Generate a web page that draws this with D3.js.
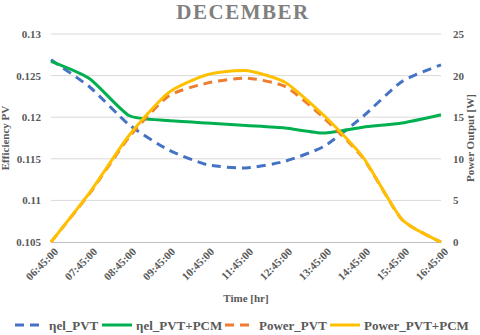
<!DOCTYPE html>
<html>
<head>
<meta charset="utf-8">
<script src="https://cdn.jsdelivr.net/npm/d3@7"></script>
<style>
  body { margin: 0; background: #fff; }
</style>
</head>
<body>
<div id="chart"></div>
<script>
// time labels and series
var times = ["06:45:00", "07:45:00", "08:45:00", "09:45:00", "10:45:00", "11:45:00",
             "12:45:00", "13:45:00", "14:45:00", "15:45:00", "16:45:00"];
var effPVT    = [0.1269, 0.1236, 0.1191, 0.1161, 0.1143, 0.1139, 0.1147, 0.1165, 0.1201, 0.1243, 0.1263];
var effPVTPCM = [0.1267, 0.1246, 0.1202, 0.1196, 0.1193, 0.1190, 0.1187, 0.1181, 0.1188, 0.1193, 0.1203];
var powPVT    = [0, 5.9, 12.6, 17.5, 19.1, 19.7, 18.7, 14.9, 10.1, 2.7, 0];
var powPVTPCM = [0, 6.0, 12.8, 17.9, 20.1, 20.6, 19.2, 15.2, 10.2, 2.7, 0];
var leftTicks = [0.105, 0.11, 0.115, 0.12, 0.125, 0.13];
var rightTicks = [0, 5, 10, 15, 20, 25];

var FONT = "'Liberation Serif', 'Times New Roman', 'DejaVu Serif', serif";

var W = 480, H = 335;
var margin = {top: 34, right: 39, bottom: 93, left: 51},
    width = W - margin.left - margin.right,
    height = H - margin.top - margin.bottom;

var svg = d3.select("#chart").append("svg")
    .attr("width", W).attr("height", H)
    .style("font-family", FONT).style("font-weight", "bold");

var g = svg.append("g")
    .attr("transform", "translate(" + margin.left + "," + margin.top + ")");

var x = d3.scalePoint().domain(times).range([0, width]);
var yL = d3.scaleLinear().domain([0.105, 0.13]).range([height, 0]);
var yR = d3.scaleLinear().domain([0, 25]).range([height, 0]);

// gridlines
g.selectAll(".grid").data(leftTicks.slice(1)).enter().append("line")
    .attr("x1", 0).attr("x2", width)
    .attr("y1", function(d) { return yL(d); })
    .attr("y2", function(d) { return yL(d); })
    .attr("stroke", "#d9d9d9").attr("stroke-width", 1);

// bottom axis
var xAxis = d3.axisBottom(x).tickSize(0).tickPadding(6);
var xg = g.append("g").attr("transform", "translate(0," + height + ")").call(xAxis)
    .attr("font-family", null);
xg.select(".domain").attr("stroke", "#bfbfbf");
xg.selectAll("text")
    .attr("fill", "#595959").style("font-size", "11px").style("font-family", FONT)
    .attr("text-anchor", "end")
    .attr("dx", "-0.2em").attr("dy", "0.6em")
    .attr("transform", "rotate(-45)");

var yAxisL = d3.axisLeft(yL).tickValues(leftTicks).tickSize(0).tickPadding(10)
    .tickFormat(function(d) { return +d.toFixed(3); });
var ylg = g.append("g").call(yAxisL);
ylg.select(".domain").remove();
ylg.selectAll("text").attr("fill", "#595959").style("font-size", "11px").style("font-family", FONT);

var yAxisR = d3.axisRight(yR).tickValues(rightTicks).tickSize(0).tickPadding(12);
var yrg = g.append("g").attr("transform", "translate(" + width + ",0)").call(yAxisR);
yrg.select(".domain").remove();
yrg.selectAll("text").attr("fill", "#595959").style("font-size", "11px").style("font-family", FONT);

// lines (Excel style smoothing)
var curve = d3.curveCardinal.tension(0.4);
var lineL = d3.line()
    .x(function(d, i) { return x(times[i]); })
    .y(function(d) { return yL(d); })
    .curve(curve);
var lineR = d3.line()
    .x(function(d, i) { return x(times[i]); })
    .y(function(d) { return yR(d); })
    .curve(curve);

var series = [
  {name: "ηel_PVT", data: effPVT, line: lineL, color: "#4472c4", dash: "9,6"},
  {name: "ηel_PVT+PCM", data: effPVTPCM, line: lineL, color: "#00b050", dash: null},
  {name: "Power_PVT", data: powPVT, line: lineR, color: "#ed7d31", dash: "9,6"},
  {name: "Power_PVT+PCM", data: powPVTPCM, line: lineR, color: "#ffc000", dash: null}
];

series.forEach(function(s) {
  g.append("path")
    .attr("d", s.line(s.data))
    .attr("fill", "none")
    .attr("stroke", s.color)
    .attr("stroke-width", 3)
    .attr("stroke-dasharray", s.dash);
});

// title and axis titles
svg.append("text").attr("x", 243).attr("y", 19)
    .attr("text-anchor", "middle").attr("fill", "#808080")
    .style("font-size", "21px").style("letter-spacing", "1.5px")
    .text("DECEMBER");

svg.append("text").attr("x", 246).attr("y", 302)
    .attr("text-anchor", "middle").attr("fill", "#595959")
    .style("font-size", "11px").text("Time [hr]");

svg.append("text")
    .attr("transform", "translate(9," + (margin.top + height / 2) + ") rotate(-90)")
    .attr("text-anchor", "middle").attr("fill", "#595959")
    .style("font-size", "11px").text("Efficiency PV");

svg.append("text")
    .attr("transform", "translate(474," + (margin.top + height / 2) + ") rotate(-90)")
    .attr("text-anchor", "middle").attr("fill", "#595959")
    .style("font-size", "11px").text("Power Output [W]");

// legend
var legX = [15, 102, 225, 330];
var leg = svg.append("g").attr("transform", "translate(0,325)");
series.forEach(function(s, i) {
  leg.append("line")
    .attr("x1", legX[i]).attr("x2", legX[i] + 30)
    .attr("y1", 0).attr("y2", 0)
    .attr("stroke", s.color).attr("stroke-width", 3)
    .attr("stroke-dasharray", s.dash);
  leg.append("text")
    .attr("x", legX[i] + 34).attr("y", 4.5)
    .attr("fill", "#595959").style("font-size", "13px")
    .text(s.name);
});
</script>
</body>
</html>
